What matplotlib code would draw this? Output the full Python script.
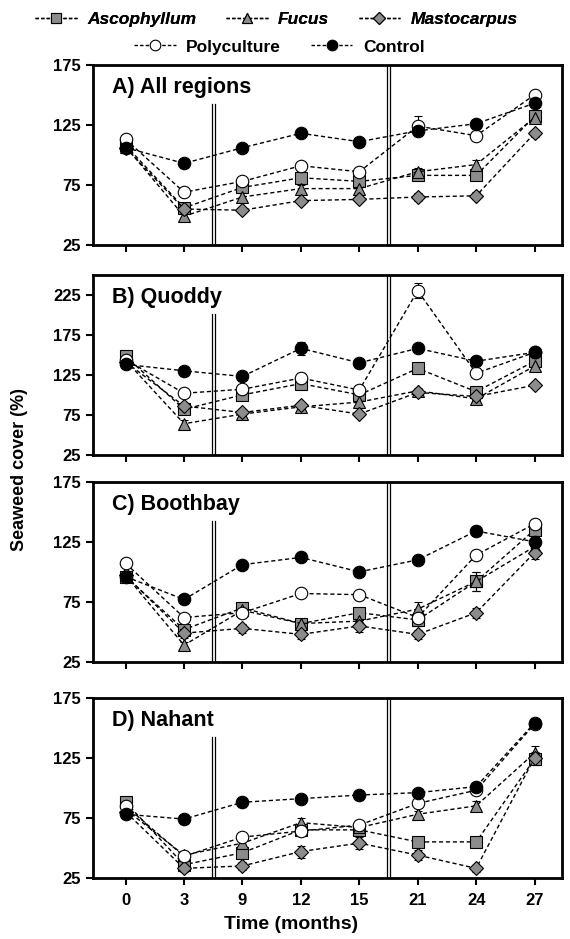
import matplotlib
matplotlib.use("Agg")
import matplotlib.pyplot as plt
from matplotlib.lines import Line2D

plt.rcParams['font.family'] = ['Liberation Sans', 'DejaVu Sans']
plt.rcParams['font.weight'] = 'bold'

months = ['0', '3', '9', '12', '15', '21', '24', '27']
series = ['Ascophyllum', 'Fucus', 'Mastocarpus', 'Polyculture', 'Control']
panel_titles = ['A) All regions', 'B) Quoddy', 'C) Boothbay', 'D) Nahant']

# mean seaweed cover (%) per panel, per series
all_regions = {
    'Ascophyllum': [108, 56, 73, 81, 78, 83, 83, 132],
    'Fucus':       [107, 49, 65, 72, 72, 86, 92, 131],
    'Mastocarpus': [106, 55, 54, 62, 63, 65, 66, 118],
    'Polyculture': [113, 69, 78, 91, 86, 124, 116, 150],
    'Control':     [106, 93, 106, 118, 111, 120, 126, 143],
}
quoddy = {
    'Ascophyllum': [148, 82, 100, 114, 100, 133, 104, 142],
    'Fucus':       [143, 64, 76, 85, 91, 105, 95, 136],
    'Mastocarpus': [141, 86, 78, 87, 76, 103, 98, 112],
    'Polyculture': [144, 102, 107, 121, 106, 230, 127, 153],
    'Control':     [138, 130, 123, 158, 140, 158, 142, 153],
}
boothbay = {
    'Ascophyllum': [96, 52, 70, 57, 66, 60, 92, 135],
    'Fucus':       [97, 39, 68, 57, 59, 69, 92, 121],
    'Mastocarpus': [97, 49, 53, 48, 55, 48, 66, 116],
    'Polyculture': [107, 62, 66, 82, 81, 62, 114, 140],
    'Control':     [96, 77, 106, 112, 100, 110, 134, 125],
}
nahant = {
    'Ascophyllum': [88, 36, 46, 65, 65, 55, 55, 124],
    'Fucus':       [82, 44, 54, 71, 67, 78, 85, 129],
    'Mastocarpus': [80, 33, 35, 47, 54, 44, 33, 125],
    'Polyculture': [85, 43, 59, 64, 69, 87, 98, 153],
    'Control':     [78, 74, 88, 91, 94, 96, 101, 154],
}

# standard errors (approximate)
err_all = {
    'Ascophyllum': [2, 3, 3, 3, 3, 3, 3, 4],
    'Fucus':       [2, 3, 3, 3, 3, 3, 4, 4],
    'Mastocarpus': [2, 2, 2, 2, 2, 3, 3, 3],
    'Polyculture': [2, 3, 3, 3, 3, 8, 3, 3],
    'Control':     [2, 3, 3, 3, 3, 3, 3, 3],
}
err_quoddy = {
    'Ascophyllum': [4, 5, 4, 5, 5, 7, 4, 5],
    'Fucus':       [4, 4, 4, 4, 4, 4, 4, 5],
    'Mastocarpus': [3, 4, 4, 4, 4, 4, 4, 4],
    'Polyculture': [4, 4, 4, 6, 4, 9, 4, 4],
    'Control':     [4, 4, 4, 8, 4, 4, 4, 5],
}
err_boothbay = {
    'Ascophyllum': [3, 4, 4, 3, 4, 5, 8, 5],
    'Fucus':       [3, 3, 4, 3, 4, 6, 8, 5],
    'Mastocarpus': [3, 4, 4, 4, 5, 4, 4, 5],
    'Polyculture': [3, 3, 4, 3, 3, 4, 4, 4],
    'Control':     [3, 3, 3, 3, 3, 3, 4, 4],
}
err_nahant = {
    'Ascophyllum': [3, 3, 3, 3, 3, 3, 3, 5],
    'Fucus':       [3, 3, 4, 4, 3, 3, 4, 6],
    'Mastocarpus': [3, 3, 3, 5, 5, 4, 3, 5],
    'Polyculture': [3, 3, 3, 3, 3, 3, 3, 4],
    'Control':     [3, 3, 4, 3, 3, 3, 3, 4],
}

panels = [all_regions, quoddy, boothbay, nahant]
errors = [err_all, err_quoddy, err_boothbay, err_nahant]
ylims = [(25, 175), (25, 250), (25, 175), (25, 175)]
yticks = [[25, 75, 125, 175], [25, 75, 125, 175, 225], [25, 75, 125, 175], [25, 75, 125, 175]]

styles = {
    'Ascophyllum': dict(marker='s', mfc='#8c8c8c', ms=8.5),
    'Fucus':       dict(marker='^', mfc='#8c8c8c', ms=9),
    'Mastocarpus': dict(marker='D', mfc='#8c8c8c', ms=7),
    'Polyculture': dict(marker='o', mfc='white', ms=9),
    'Control':     dict(marker='o', mfc='black', ms=9),
}

fig = plt.figure(figsize=(5.7, 9.39), dpi=100)
bottoms = [0.739, 0.5155, 0.295, 0.065]
x = list(range(len(months)))

for i, (data, err) in enumerate(zip(panels, errors)):
    ax = fig.add_axes([0.163, bottoms[i], 0.823, 0.192])
    for s in series:
        ax.errorbar(x, data[s], yerr=err[s], color='black', ls=(0, (3, 2)), lw=1,
                    mec='black', mew=0.8, capsize=3, elinewidth=0.8, capthick=0.8,
                    **styles[s])
    # double lines marking breaks in time
    ax.axvline(1.5 - 0.03, ymax=0.78, color='black', lw=0.9)
    ax.axvline(1.5 + 0.03, ymax=0.78, color='black', lw=0.9)
    ax.axvline(4.5 - 0.03, color='black', lw=0.9)
    ax.axvline(4.5 + 0.03, color='black', lw=0.9)
    ax.set_xlim(-0.56, 7.47)
    ax.set_ylim(*ylims[i])
    ax.set_yticks(yticks[i])
    ax.set_xticks(x)
    if i == 3:
        ax.set_xticklabels(months, fontsize=12, fontweight='bold')
    else:
        ax.set_xticklabels([])
    ax.tick_params(axis='y', labelsize=12, direction='out', length=5, width=1.5)
    ax.tick_params(axis='x', direction='out', length=5, width=1.5, pad=6)
    for lbl in ax.get_yticklabels():
        lbl.set_fontweight('bold')
    for sp in ax.spines.values():
        sp.set_linewidth(2)
    ax.text(0.04, 0.93, panel_titles[i], transform=ax.transAxes, fontsize=15.5,
            fontweight='bold', va='top', ha='left')

fig.text(0.035, 0.5, 'Seaweed cover (%)', rotation=90, va='center', ha='center',
         fontsize=13, fontweight='bold')
fig.text(0.51, 0.015, 'Time (months)', ha='center', va='center', fontsize=14,
         fontweight='bold')

def handle(s):
    st = styles[s]
    return Line2D([], [], color='black', ls=(0, (2.5, 1.5)), lw=1, marker=st['marker'],
                  mfc=st['mfc'], mec='black', ms=st['ms'] * 0.85, mew=0.8)

leg1 = fig.legend([handle(s) for s in series[:3]], series[:3], loc='center',
                  bbox_to_anchor=(0.485, 0.979), ncol=3, frameon=False,
                  handlelength=2.4, columnspacing=1.7, handletextpad=0.6,
                  prop={'weight': 'bold', 'style': 'italic', 'size': 12.5})
leg2 = fig.legend([handle(s) for s in series[3:]], series[3:], loc='center',
                  bbox_to_anchor=(0.49, 0.950), ncol=2, frameon=False,
                  handlelength=2.4, columnspacing=1.7, handletextpad=0.6,
                  prop={'weight': 'bold', 'size': 12.5})
fig.add_artist(leg1)

fig.savefig('out.png', dpi=100)
